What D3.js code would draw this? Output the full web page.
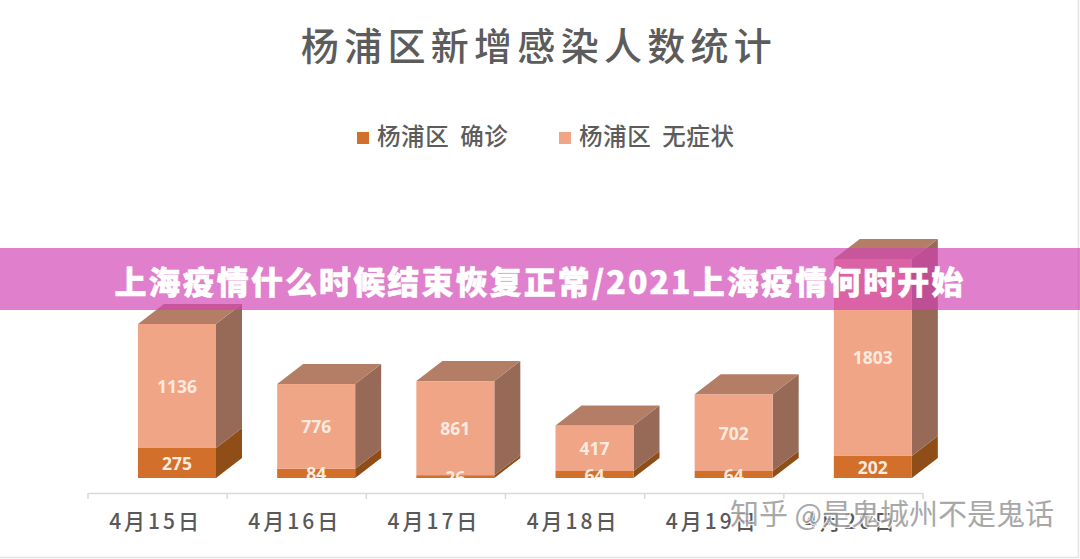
<!DOCTYPE html>
<html><head><meta charset="utf-8">
<script src="https://cdn.jsdelivr.net/npm/d3@7/dist/d3.min.js"></script>
<style>
html,body{margin:0;padding:0;background:#fff;overflow:hidden}
svg{display:block}
text{font-family:"Noto Sans CJK SC","Noto Sans",sans-serif}
</style></head><body>
<script>
const categories = ["4月15日","4月16日","4月17日","4月18日","4月19日","4月20日"];
const confirmed = [275,84,26,64,64,202];
const asymptomatic = [1136,776,861,417,702,1803];
const seriesNames = ["杨浦区 确诊","杨浦区 无症状"];
const chartTitle = "杨浦区新增感染人数统计";
const bannerText = "上海疫情什么时候结束恢复正常/2021上海疫情何时开始";
const watermark = "知乎 @是鬼城州不是鬼话";

const W=1080,H=559,baseY=478,axisY=493,barW=78,depthX=26,depthY=20;
const svg=d3.select("body").append("svg").attr("width",W).attr("height",H);
svg.append("rect").attr("width",W).attr("height",H).attr("fill","#fff");
svg.append("path").attr("d",`M${W-1.5} 0V${H-1.5}H0`).attr("fill","none").attr("stroke","#e4e4e4").attr("stroke-width",1.5);

const x=d3.scaleBand().domain(categories).range([88,923]);
const y=d3.scaleLinear().domain([0,2005]).range([baseY,259]);

svg.append("text").attr("x",539).attr("y",60).attr("text-anchor","middle")
  .attr("font-size",38).attr("font-weight",500).attr("letter-spacing",5.3).attr("fill","#5c5c5c").text(chartTitle);

const colors=[{front:"#d2702b",side:"#8f4e17",top:"#a85c20"},{front:"#f0a587",side:"#966a56",top:"#b47e66"}];
const legendX=[357,559];
seriesNames.forEach((n,i)=>{
  svg.append("rect").attr("x",legendX[i]).attr("y",132).attr("width",12).attr("height",12).attr("fill",colors[i].front);
  svg.append("text").attr("x",legendX[i]+20).attr("y",145).attr("font-size",23.5).attr("font-weight",500)
    .attr("letter-spacing",0.6).attr("word-spacing",5).attr("fill","#5c5c5c").text(n);
});

const stacks=d3.stack().keys([0,1]).value((d,k)=>d[k])(categories.map((c,i)=>[confirmed[i],asymptomatic[i]]));
const left=c=>x(c)+50;
svg.append("clipPath").attr("id","base").append("rect").attr("x",0).attr("y",0).attr("width",W).attr("height",baseY);
const g=svg.append("g");
stacks.forEach((s,k)=>{
  const col=colors[k];
  categories.forEach((c,i)=>{
    const x0=left(c),x1=x0+barW,y0=y(s[i][0]),y1=y(s[i][1]);
    g.append("path").attr("fill",col.side)
      .attr("d",d3.line()([[x1,y0],[x1+depthX,y0-depthY],[x1+depthX,y1-depthY],[x1,y1]])+"Z");
    g.append("rect").attr("x",x0).attr("y",y1).attr("width",barW).attr("height",y0-y1).attr("fill",col.front);
    if(k===1) g.append("path").attr("fill",col.top)
      .attr("d",d3.line()([[x0,y1],[x0+depthX,y1-depthY],[x1+depthX,y1-depthY],[x1,y1]])+"Z");
  });
});
const labels=svg.append("g").attr("clip-path","url(#base)");
stacks.forEach((s,k)=>{
  const vals=k===0?confirmed:asymptomatic;
  categories.forEach((c,i)=>{
    labels.append("text").attr("x",left(c)+barW/2).attr("y",(y(s[i][0])+y(s[i][1]))/2+7)
      .attr("text-anchor","middle").attr("font-size",17.5).attr("font-weight",700)
      .style("font-family","'Open Sans',sans-serif").attr("fill","#fbeadf").text(vals[i]);
  });
});

const axis=svg.append("g").attr("transform",`translate(0,${axisY})`)
  .call(d3.axisBottom(x).tickSize(0).tickPadding(21));
axis.select(".domain").attr("stroke","#d9d9d9").attr("stroke-width",1.5);
axis.selectAll(".tick text").attr("font-size",21).attr("font-weight",500).attr("letter-spacing",3)
  .attr("fill","#595959").style("font-family","'Noto Sans CJK SC',sans-serif").attr("dx",-2);
const edges=categories.map(c=>x(c)).concat([x.range()[1]]);
axis.selectAll(".edge").data(edges).join("line").attr("class","edge")
  .attr("x1",d=>d).attr("x2",d=>d).attr("y1",0).attr("y2",6).attr("stroke","#d9d9d9").attr("stroke-width",1.5);

svg.append("rect").attr("x",0).attr("y",248).attr("width",W).attr("height",62).attr("fill","rgb(209,67,179)").attr("fill-opacity",0.675);
svg.append("text").attr("x",540).attr("y",294).attr("text-anchor","middle").attr("font-size",32).attr("font-weight",900)
  .attr("letter-spacing",2.1).attr("stroke","#fff").attr("stroke-width",0.5).attr("fill","#fff").text(bannerText);

svg.append("text").attr("x",730).attr("y",525).attr("font-size",29).attr("fill","#9a9a9a")
  .attr("stroke","#fff").attr("stroke-width",2.5).attr("paint-order","stroke").attr("opacity",.85).text(watermark);
</script>
</body></html>
